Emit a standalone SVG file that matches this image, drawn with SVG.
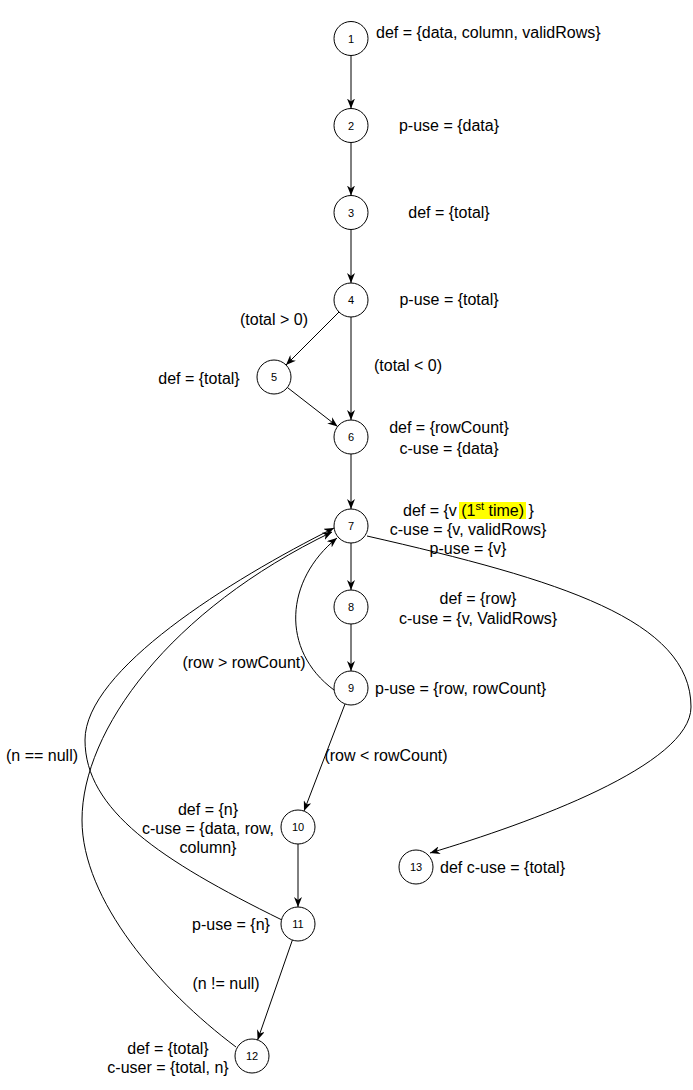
<svg xmlns="http://www.w3.org/2000/svg" width="693" height="1090" viewBox="0 0 693 1090">
<style>
.n{fill:#fff;stroke:#000;stroke-width:1}
.nt{font-family:"Liberation Sans",Arial,sans-serif;font-size:11px;fill:#000;text-anchor:middle}
.t{font-family:"Liberation Sans",Arial,sans-serif;font-size:16px;fill:#000}
.m{text-anchor:middle}
.e{fill:none;stroke:#000;stroke-width:1;marker-end:url(#arr)}
</style>
<defs>
<marker id="arr" viewBox="0 0 10 8" refX="10" refY="4" markerWidth="10" markerHeight="8" orient="auto" markerUnits="userSpaceOnUse">
<path d="M0,0 L10,4 L0,8 L3,4 Z" fill="#000"/>
</marker>
</defs>
<rect width="693" height="1090" fill="#fff"/>
<g id="connectors">
<path class="e" d="M351,55.5 L351,108.5"/>
<path class="e" d="M351,142.5 L351,195.5"/>
<path class="e" d="M351,229.5 L351,283"/>
<path class="e" d="M339,312 L286,365"/>
<path class="e" d="M351,317 L351,420"/>
<path class="e" d="M287.4,387.5 L337.6,426.5"/>
<path class="e" d="M351,454 L351,509"/>
<path class="e" d="M351,543 L351,590"/>
<path class="e" d="M351,624 L351,671"/>
<path class="e" d="M345,704 L304,811"/>
<path class="e" d="M298,844 L298,907"/>
<path class="e" d="M292.4,940 L257.6,1040"/>
<path class="e" d="M334,690 C 280,650 285,580 337,538"/>
<path class="e" d="M282,920 C 160,860 85,810 85,740 C 85,670 230,580 334,528"/>
<path class="e" d="M236,1047 C 160,990 82,900 82,820 C 82,730 170,610 332,532"/>
<path class="e" d="M367,536 C 560,580 691,620 691,707 C 691,765 530,823 430,853"/>
</g>
<g id="edge-labels">
<text class="t m" x="274" y="325">(total &gt; 0)</text>
<text class="t m" x="408" y="371">(total &lt; 0)</text>
<text class="t m" x="244" y="668">(row &gt; rowCount)</text>
<text class="t m" x="386" y="761">(row &lt; rowCount)</text>
<text class="t m" x="42" y="761">(n == null)</text>
<text class="t m" x="226" y="989">(n != null)</text>
</g>
<g id="node1"><circle class="n" cx="351" cy="38.5" r="17"/><text class="nt" x="351" y="42.5">1</text>
<text class="t" x="376" y="38">def = {data, column, validRows}</text></g>
<g id="node2"><circle class="n" cx="351" cy="125.5" r="17"/><text class="nt" x="351" y="129.5">2</text>
<text class="t m" x="449" y="131">p-use = {data}</text></g>
<g id="node3"><circle class="n" cx="351" cy="212.5" r="17"/><text class="nt" x="351" y="216.5">3</text>
<text class="t m" x="449" y="218">def = {total}</text></g>
<g id="node4"><circle class="n" cx="351" cy="300" r="17"/><text class="nt" x="351" y="304">4</text>
<text class="t m" x="449" y="305">p-use = {total}</text></g>
<g id="node5"><circle class="n" cx="274" cy="377" r="17"/><text class="nt" x="274" y="381">5</text>
<text class="t m" x="199" y="384">def = {total}</text></g>
<g id="node6"><circle class="n" cx="351" cy="437" r="17"/><text class="nt" x="351" y="441">6</text>
<text class="t m" x="449" y="433">def = {rowCount}</text>
<text class="t m" x="449" y="454">c-use = {data}</text></g>
<g id="node7"><circle class="n" cx="351" cy="526" r="17"/><text class="nt" x="351" y="530">7</text>
<rect x="459" y="502" width="67" height="17" fill="#ffff00"/>
<text class="t" x="403" y="516">def = {v <tspan>(1</tspan><tspan font-size="11" dy="-6">st</tspan><tspan dy="6"> time)</tspan> }</text>
<text class="t m" x="468" y="535">c-use = {v, validRows}</text>
<text class="t m" x="468" y="554">p-use = {v}</text></g>
<g id="node8"><circle class="n" cx="351" cy="607" r="17"/><text class="nt" x="351" y="611">8</text>
<text class="t m" x="478" y="604">def = {row}</text>
<text class="t m" x="478" y="624">c-use = {v, ValidRows}</text></g>
<g id="node9"><circle class="n" cx="351" cy="688" r="17"/><text class="nt" x="351" y="692">9</text>
<text class="t" x="375" y="694">p-use = {row, rowCount}</text></g>
<g id="node10"><circle class="n" cx="298" cy="827" r="17"/><text class="nt" x="298" y="831">10</text>
<text class="t m" x="208" y="815">def = {n}</text>
<text class="t m" x="208" y="834">c-use = {data, row,</text>
<text class="t m" x="208" y="853">column}</text></g>
<g id="node11"><circle class="n" cx="298" cy="924" r="17"/><text class="nt" x="298" y="928">11</text>
<text class="t m" x="231" y="930">p-use = {n}</text></g>
<g id="node12"><circle class="n" cx="252" cy="1056" r="17"/><text class="nt" x="252" y="1060">12</text>
<text class="t m" x="168" y="1054">def = {total}</text>
<text class="t m" x="168" y="1073">c-user = {total, n}</text></g>
<g id="node13"><circle class="n" cx="416" cy="867" r="17"/><text class="nt" x="416" y="871">13</text>
<text class="t" x="440" y="873">def c-use = {total}</text></g>
</svg>
